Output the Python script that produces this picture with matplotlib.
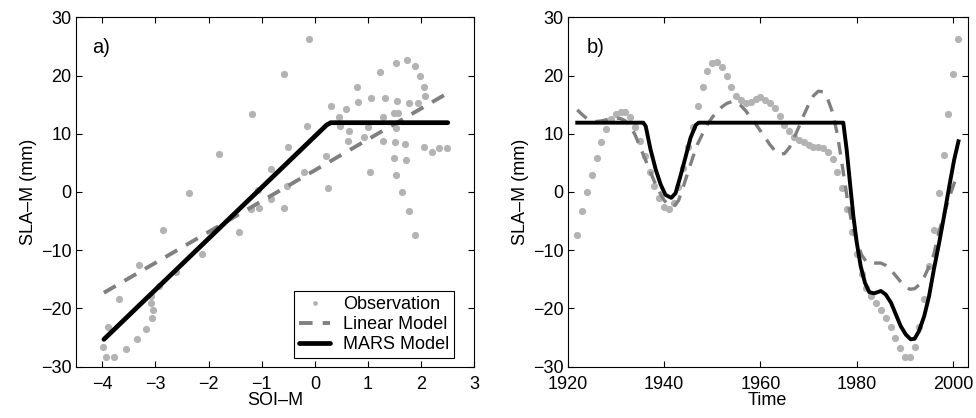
import numpy as np
import matplotlib
matplotlib.use("Agg")
import matplotlib.pyplot as plt

plt.rcParams['font.family'] = ['Liberation Sans', 'DejaVu Sans']
plt.rcParams['font.size'] = 13

# ---- panel a) : SLA-M vs SOI-M ----
soi_obs = [-3.99, -3.93, -3.78, -3.89, -3.68, -3.55, -3.34, -3.31, -3.18, -3.06,
           -3.04, -3.08, -3.08, -2.93, -2.86, -2.61, -2.37, -2.13, -1.80, -1.42,
           -1.18, -1.21, -1.06, -1.07, -0.83, -0.82, -0.59, -0.58, -0.52, -0.50,
           -0.20, -0.14, -0.11, 0.20, 0.25, 0.31, 0.46, 0.48, 0.59, 0.62,
           0.64, 0.79, 0.81, 0.93, 0.99, 1.03, 1.06, 1.23, 1.28, 1.29,
           1.31, 1.48, 1.49, 1.50, 1.53, 1.53, 1.53, 1.54, 1.56, 1.64,
           1.69, 1.72, 1.73, 1.77, 1.78, 1.88, 1.89, 1.94, 1.98, 2.06,
           2.08, 2.05, 2.21, 2.33, 2.48]
sla_obs = [-26.6, -28.3, -28.3, -23.1, -18.3, -27.0, -25.3, -12.6, -23.5, -21.6,
           -20.2, -19.0, -17.8, -16.2, -6.5, -13.8, -0.2, -10.6, 6.5, -6.8,
           13.4, -3.0, -2.8, 0.4, -1.2, 4.0, 20.2, -2.8, 1.0, 7.7,
           3.5, 11.4, 26.3, 6.1, 0.7, 14.8, 12.9, 11.4, 14.3, 8.8,
           10.4, 18.0, 15.5, 9.4, 11.1, 3.5, 16.1, 20.6, 12.9, 8.7,
           16.1, 5.8, 13.5, 8.5, 11.0, 2.9, 22.2, 15.6, 13.5, 0.0,
           8.2, 5.5, 22.6, 15.3, -3.2, 21.7, -7.4, 15.2, 19.9, 18.0,
           16.5, 7.8, 6.9, 7.6, 7.6]

soi_lin = [-3.97, 2.54]
sla_lin = [-17.3, 17.2]
soi_mars = [-3.97, 0.22, 0.30, 2.50]
sla_mars = [-25.3, 11.5, 11.9, 11.9]

# ---- panel b) : time series ----
years_obs = list(range(1922, 2002))
sla_series = [-7.4, -3.3, 0.0, 2.9, 5.8, 8.6, 10.8, 12.5, 13.4, 13.8,
              13.7, 12.9, 11.1, 8.7, 6.1, 3.4, 1.1, -1.1, -2.5, -3.0,
              -1.9, 0.9, 4.1, 7.8, 11.2, 14.8, 18.0, 20.7, 22.2, 22.4,
              21.5, 19.9, 18.0, 16.4, 15.8, 15.2, 15.5, 15.9, 16.3, 15.8,
              15.2, 14.4, 13.1, 11.5, 10.4, 9.5, 8.9, 8.5, 8.1, 7.8,
              7.7, 7.5, 6.9, 5.6, 3.5, 0.6, -2.9, -6.8, -10.6, -14.0,
              -16.4, -17.9, -19.1, -20.2, -21.6, -23.2, -25.1, -26.8, -28.3, -28.4,
              -26.6, -23.2, -18.4, -12.7, -6.6, -0.1, 6.4, 13.4, 20.2, 26.3]

years_lin = list(range(1922, 2002))
lin_series = [14.1, 13.3, 12.6, 12.2, 12.1, 12.2, 12.4, 12.6, 12.7, 12.6,
              12.2, 11.3, 9.8, 7.8, 5.8, 3.8, 1.8, 0.1, -1.4, -2.3,
              -2.5, -1.5, 0.9, 3.5, 6.0, 8.3, 10.0, 11.6, 12.8, 13.8,
              14.6, 15.2, 15.5, 15.4, 14.8, 13.9, 12.7, 11.7, 10.5, 9.3,
              8.1, 7.1, 6.5, 6.6, 7.6, 9.3, 11.2, 13.2, 15.0, 16.5,
              17.3, 17.2, 15.9, 13.6, 9.8, 4.5, -1.0, -5.5, -8.5, -10.8,
              -12.0, -12.3, -12.2, -12.2, -12.6, -13.3, -14.3, -15.3, -16.2, -16.7,
              -16.6, -15.9, -14.6, -12.8, -10.7, -7.0, -4.2, -1.4, 1.0, 3.3]

years_mars = [1922.0, 1935.7, 1936.2, 1937.2, 1938.3, 1939.3, 1940.3, 1941.5,
              1942.4, 1943.4, 1944.5, 1945.5, 1946.6, 1947.2, 1977.2, 1977.9,
              1978.6, 1979.3, 1980.0, 1980.8, 1981.7, 1982.6, 1983.6, 1985.0,
              1986.0, 1987.1, 1988.1, 1989.1, 1990.2, 1991.2, 1992.0, 1992.9,
              1994.0, 1995.0, 1996.0, 1997.1, 1998.1, 1999.2, 2000.2, 2001.1]
mars_series = [11.9, 11.9, 11.3, 7.3, 3.8, 1.3, -0.5, -1.0,
               -0.2, 2.7, 6.1, 9.3, 11.5, 11.9, 11.9, 7.3,
               1.5, -4.2, -8.7, -12.7, -15.6, -17.2, -17.4, -17.0,
               -17.6, -19.0, -21.0, -23.0, -24.5, -25.3, -25.2, -23.9,
               -21.3, -17.9, -13.3, -8.7, -4.2, 1.0, 5.5, 8.7]

dot_color = '#b3b3b3'
dash_color = '#808080'

fig = plt.figure(figsize=(9.76, 4.18), dpi=100)
ax1 = fig.add_axes([0.0776, 0.1227, 0.4084, 0.836])
ax2 = fig.add_axes([0.5816, 0.1227, 0.4098, 0.836])

# panel a
ax1.plot(soi_obs, sla_obs, 'o', color=dot_color, markersize=5.2, markeredgewidth=0,
         label='Observation')
ax1.plot(soi_lin, sla_lin, color=dash_color, lw=2.8, dashes=(3.5, 2.6),
         label='Linear Model')
ax1.plot(soi_mars, sla_mars, color='black', lw=3.4, solid_capstyle='round',
         label='MARS Model')
ax1.set_xlim(-4.5, 3)
ax1.set_ylim(-30, 30)
ax1.set_xticks(range(-4, 4))
ax1.set_yticks(range(-30, 31, 10))
ax1.set_xlabel('SOI\u2013M', labelpad=-1)
ax1.set_ylabel('SLA\u2013M (mm)', labelpad=3)
ax1.text(0.04, 0.94, 'a)', transform=ax1.transAxes, fontsize=14.5, va='top')
leg = ax1.legend(loc='lower right', bbox_to_anchor=(0.95, 0.024), borderaxespad=0,
                 fancybox=False, edgecolor='black', framealpha=1, numpoints=1,
                 markerscale=0.65, handlelength=1.7, fontsize=13,
                 borderpad=0.3, labelspacing=0.15, handletextpad=0.7)
leg.get_frame().set_linewidth(0.8)

# panel b
ax2.plot(years_obs, sla_series, 'o', color=dot_color, markersize=5.2, markeredgewidth=0)
ax2.plot(years_lin, lin_series, color=dash_color, lw=2.4, dashes=(3.8, 2.8))
ax2.plot(years_mars, mars_series, color='black', lw=2.8)
ax2.set_xlim(1920, 2003)
ax2.set_ylim(-30, 30)
ax2.set_xticks(range(1920, 2001, 20))
ax2.set_yticks(range(-30, 31, 10))
ax2.set_xlabel('Time', labelpad=-1)
ax2.set_ylabel('SLA\u2013M (mm)', labelpad=3)
ax2.text(0.048, 0.94, 'b)', transform=ax2.transAxes, fontsize=14.5, va='top')

for ax in (ax1, ax2):
    ax.tick_params(direction='in', top=True, right=True, length=4, width=0.8,
                   labelsize=13, pad=3)
    ax.tick_params(axis='x', pad=7)
    for s in ax.spines.values():
        s.set_linewidth(0.8)

fig.savefig('out.png', dpi=100)
